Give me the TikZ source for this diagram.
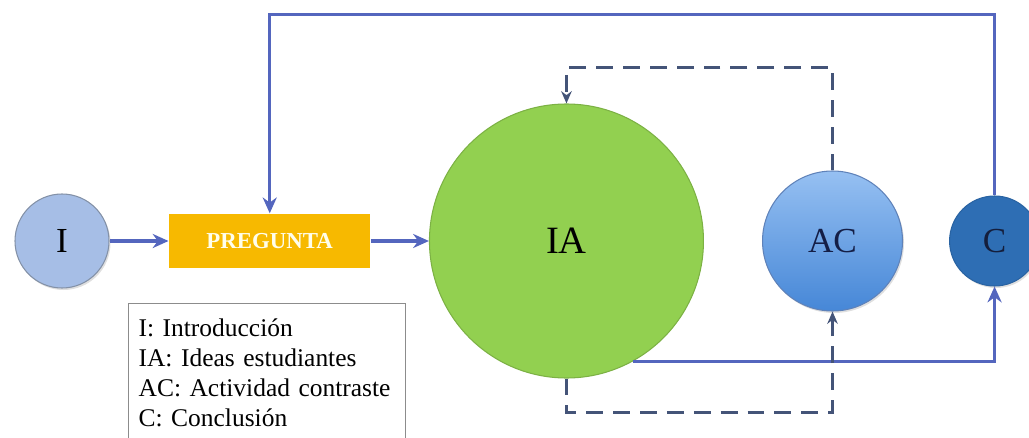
\documentclass[tikz,border=0pt]{standalone}
\usepackage{fontspec}
\setmainfont{Liberation Serif}
\usepackage{xcolor}
\usepackage{tikz}
\usetikzlibrary{positioning,shapes,arrows,arrows.meta,calc,shadows}
\definecolor{azulflujo}{RGB}{84,102,190}
\definecolor{grisretro}{RGB}{68,84,120}
\definecolor{naranja}{RGB}{247,185,0}
\definecolor{verde}{RGB}{146,208,80}
\definecolor{celeste}{RGB}{166,190,230}
\definecolor{marino}{RGB}{46,110,180}
\tikzset{%
	circulo/.style  = {draw, circle, inner sep=0pt, line width=0.6pt,
		font=\fontsize{20}{24}\selectfont},
	sombra/.style   = {drop shadow={shadow xshift=0.03cm, shadow yshift=-0.04cm, opacity=0.25}},
	caja/.style     = {rectangle, fill=naranja, minimum height=1.08cm,
		minimum width=4.02cm, text={white!92!yellow}, font=\bfseries\fontsize{13}{15}\selectfont},
	leyenda/.style  = {draw=black!45, line width=0.7pt, rectangle, inner sep=0.2cm,
		text width=5.14cm, minimum height=2.76cm, align=left, font=\fontsize{14.5}{17}\selectfont},
	flujo/.style    = {->, draw=azulflujo, line width=2pt},
	retro/.style    = {-{Stealth[length=7pt,width=6pt]}, draw=grisretro, line width=2pt, dash pattern=on 9.6pt off 5.7pt}
}
\begin{document}
\begin{tikzpicture}[thick, >={Stealth[length=9pt,width=8pt]}]
	\useasboundingbox (0,0) rectangle (20.58,8.74);
	\draw
		node at (1.24,3.92)[circulo, sombra, fill=celeste, draw=black!20!celeste!70!gray, minimum size=1.88cm, name=i]{I}
		node [caja, right=1.18cm of i] (preg) {PREGUNTA}
		node [circulo, fill=verde, draw=verde!85!black, minimum size=5.48cm, font=\fontsize{22}{26}\selectfont, right=1.16cm of preg] (ia) {IA}
		node [circulo, sombra, top color={rgb,255:red,150;green,192;blue,242}, bottom color={rgb,255:red,70;green,135;blue,215}, draw={rgb,255:red,95;green,130;blue,185}, minimum size=2.8cm, text={rgb,255:red,20;green,30;blue,70}, right=1.16cm of ia] (ac) {AC}
		node [circulo, sombra, fill=marino, draw=marino!90!black, minimum size=1.8cm, text={rgb,255:red,20;green,30;blue,60}, right=0.92cm of ac] (c) {C}

		node at (2.56,2.68)[leyenda, anchor=north west, name=ley]{I: Introducción\\IA: Ideas estudiantes\\AC: Actividad contraste\\C: Conclusión};

		\draw[flujo] (i) -- (preg);
		\draw[flujo] (preg) -- (ia);
		\draw[flujo] (c.north) -- ++(0,3.62) -| (preg.north);
		\draw[flujo] (ia.-61) -| (c.south);

		\draw[retro] (ia.south) -- ++(0,-0.68) -| (ac.south);
		\draw[retro] (ac.north) -- ++(0,2.06) -| (ia.north);
\end{tikzpicture}
\end{document}
